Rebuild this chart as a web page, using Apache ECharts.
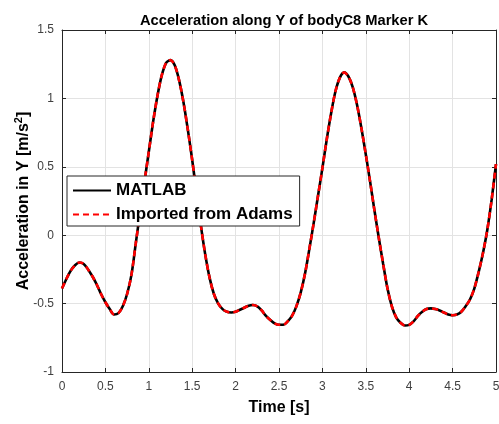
<!DOCTYPE html>
<html><head><meta charset="utf-8">
<script src="https://cdn.jsdelivr.net/npm/echarts@6/dist/echarts.min.js"></script>
<style>html,body{margin:0;padding:0;background:#fff}#c{width:499px;height:424px}</style>
</head><body><div id="c"></div>
<script>
const titleText = 'Acceleration along Y of bodyC8 Marker K';
const xTicks = [0,0.5,1,1.5,2,2.5,3,3.5,4,4.5,5];
const yTicks = [-1,-0.5,0,0.5,1,1.5];
const timeS = [0,0.05,0.1,0.15,0.2,0.25,0.3,0.35,0.4,0.45,0.5,0.55,0.6,0.65,0.7,0.75,0.8,0.85,0.9,0.95,1,1.05,1.1,1.15,1.2,1.25,1.3,1.35,1.4,1.45,1.5,1.55,1.6,1.65,1.7,1.75,1.8,1.85,1.9,1.95,2,2.05,2.1,2.15,2.2,2.25,2.3,2.35,2.4,2.45,2.5,2.55,2.6,2.65,2.7,2.75,2.8,2.85,2.9,2.95,3,3.05,3.1,3.15,3.2,3.25,3.3,3.35,3.4,3.45,3.5,3.55,3.6,3.65,3.7,3.75,3.8,3.85,3.9,3.95,4,4.05,4.1,4.15,4.2,4.25,4.3,4.35,4.4,4.45,4.5,4.55,4.6,4.65,4.7,4.75,4.8,4.85,4.9,4.95,5];
const matlabAccel = [-0.39,-0.32,-0.26,-0.22,-0.20,-0.21,-0.25,-0.30,-0.36,-0.43,-0.49,-0.54,-0.58,-0.57,-0.52,-0.43,-0.29,-0.06,0.17,0.39,0.61,0.83,1.02,1.17,1.26,1.28,1.24,1.13,0.97,0.77,0.55,0.31,0.07,-0.14,-0.31,-0.43,-0.50,-0.54,-0.56,-0.565,-0.56,-0.545,-0.53,-0.515,-0.51,-0.52,-0.55,-0.59,-0.62,-0.645,-0.655,-0.655,-0.63,-0.59,-0.52,-0.42,-0.28,-0.10,0.09,0.29,0.49,0.70,0.89,1.05,1.15,1.19,1.16,1.08,0.95,0.78,0.59,0.39,0.18,-0.02,-0.21,-0.39,-0.52,-0.60,-0.64,-0.66,-0.655,-0.63,-0.59,-0.56,-0.54,-0.535,-0.54,-0.55,-0.565,-0.58,-0.585,-0.58,-0.56,-0.52,-0.47,-0.39,-0.27,-0.13,0.04,0.26,0.52];
const adamsAccel = [-0.39,-0.32,-0.26,-0.22,-0.20,-0.21,-0.25,-0.30,-0.36,-0.43,-0.49,-0.54,-0.58,-0.57,-0.52,-0.43,-0.29,-0.06,0.17,0.39,0.61,0.83,1.02,1.17,1.26,1.28,1.24,1.13,0.97,0.77,0.55,0.31,0.07,-0.14,-0.31,-0.43,-0.50,-0.54,-0.56,-0.565,-0.56,-0.545,-0.53,-0.515,-0.51,-0.52,-0.55,-0.59,-0.62,-0.645,-0.655,-0.655,-0.63,-0.59,-0.52,-0.42,-0.28,-0.10,0.09,0.29,0.49,0.70,0.89,1.05,1.15,1.19,1.16,1.08,0.95,0.78,0.59,0.39,0.18,-0.02,-0.21,-0.39,-0.52,-0.60,-0.64,-0.66,-0.655,-0.63,-0.59,-0.56,-0.54,-0.535,-0.54,-0.55,-0.565,-0.58,-0.585,-0.58,-0.56,-0.52,-0.47,-0.39,-0.27,-0.13,0.04,0.26,0.52];
const seriesNames = ['MATLAB','Imported from Adams'];

const F = '"Liberation Sans", Arial, Helvetica, sans-serif';
const axisCol = '#262626';
const chart = echarts.init(document.getElementById('c'), null, {renderer:'canvas'});
const mk = (ys) => timeS.map((t,i)=>[t, ys[i]]);
const lblX = v => xTicks.includes(v) ? String(v) : '';
const lblY = v => yTicks.includes(v) ? String(v) : '';
const tickStyle = {show:true, inside:true, length:4, lineStyle:{color:axisCol}};
const lineStyleAx = {show:true, onZero:false, lineStyle:{color:axisCol, width:1}};
chart.setOption({
  animation:false,
  title:{text:titleText, left:135, top:8,
    textStyle:{fontFamily:F, fontSize:14.7, fontWeight:'bold', color:'#000'}},
  grid:{left:62, right:3, top:30, bottom:52, containLabel:false, outerBoundsMode:'none'},
  legend:{orient:'vertical', left:67, top:176,
    data:seriesNames, itemWidth:38, itemHeight:16, itemGap:7,
    padding:[6,7,3,5], backgroundColor:'#fff', borderColor:'#262626', borderWidth:1,
    itemStyle:{color:'rgba(0,0,0,0)', borderColor:'rgba(0,0,0,0)', borderWidth:0},
    textStyle:{fontFamily:F, fontSize:17, fontWeight:'bold', color:'#000'}},
  xAxis:[{type:'value', min:0, max:5, interval:0.5, position:'bottom',
    name:'Time [s]', nameLocation:'middle', nameGap:28, nameMoveOverlap:false,
    nameTextStyle:{fontFamily:F, fontSize:16, fontWeight:'bold', color:'#000'},
    axisLine:lineStyleAx, axisTick:tickStyle,
    axisLabel:{fontFamily:F, fontSize:12, color:'#404040', margin:9, formatter:lblX},
    splitLine:{show:true, lineStyle:{color:'#e3e3e3', width:1}}},
   {type:'value', min:0, max:5, interval:0.5, position:'top',
    axisLine:lineStyleAx, axisTick:tickStyle,
    axisLabel:{show:false}, splitLine:{show:false}}],
  yAxis:[{type:'value', min:-1, max:1.5, interval:0.5, position:'left',
    name:'{a|Acceleration in Y [m/s}{s|2}{a|]}', nameLocation:'middle', nameGap:30, nameMoveOverlap:false,
    nameTextStyle:{rich:{
      a:{fontFamily:F, fontSize:16, fontWeight:'bold', color:'#000', verticalAlign:'bottom'},
      s:{fontFamily:F, fontSize:11, fontWeight:'bold', color:'#000', verticalAlign:'top', padding:[0,0,8,0]}}},
    axisLine:lineStyleAx, axisTick:tickStyle,
    axisLabel:{fontFamily:F, fontSize:12, color:'#404040', margin:8, formatter:lblY},
    splitLine:{show:true, lineStyle:{color:'#e3e3e3', width:1}}},
   {type:'value', min:-1, max:1.5, interval:0.5, position:'right',
    axisLine:lineStyleAx, axisTick:tickStyle,
    axisLabel:{show:false}, splitLine:{show:false}}],
  series:[
    {name:seriesNames[0], type:'line', data:mk(matlabAccel), smooth:0.3, symbol:'none',
     lineStyle:{color:'#000', width:2.6}, itemStyle:{color:'#000'}},
    {name:seriesNames[1], type:'line', data:mk(adamsAccel), smooth:0.3, symbol:'none',
     lineStyle:{color:'#ff0000', width:2.6, type:[6,4]}, itemStyle:{color:'#ff0000'}}
  ]
});
</script></body></html>
